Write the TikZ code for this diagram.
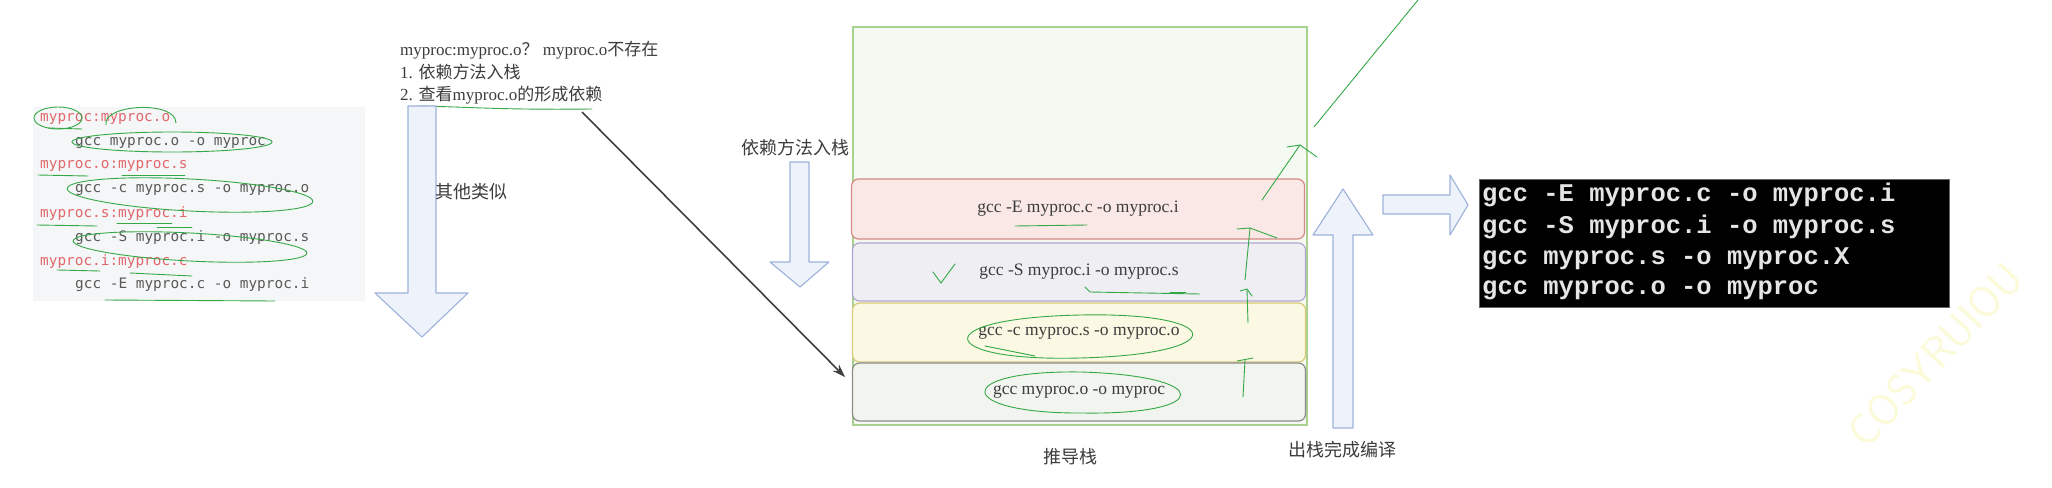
\documentclass[tikz,border=0pt]{standalone}
\usepackage{fontspec}
\setmainfont{Liberation Serif}
\setmonofont{DejaVu Sans Mono}
\newfontfamily\cjk{Noto Sans CJK SC}
\newfontfamily\termfont{Liberation Mono}
\usetikzlibrary{arrows.meta,shapes.geometric}
\newcommand\zh[1]{{\cjk #1}}
\definecolor{redtxt}{HTML}{E0676C}
\definecolor{codegray}{HTML}{5A5A5A}
\definecolor{panelbg}{HTML}{F5F6F7}
\definecolor{blueline}{HTML}{9DB2DA}
\definecolor{bluefill}{HTML}{EEF2FA}
\definecolor{anno}{HTML}{35A846}
\definecolor{stackline}{HTML}{A9D08F}
\definecolor{stackfill}{HTML}{F4F9F1}
\definecolor{redline}{HTML}{D58A85}
\definecolor{redfill}{HTML}{F9E8E5}
\definecolor{purpline}{HTML}{B3A6D0}
\definecolor{purpfill}{HTML}{EEEEF3}
\definecolor{yelline}{HTML}{D9C978}
\definecolor{yelfill}{HTML}{FBF8E3}
\definecolor{grayline}{HTML}{8C8C8C}
\definecolor{grayfill}{HTML}{F1F4EF}
\definecolor{txt}{HTML}{3C3C3C}
\definecolor{wmark}{HTML}{FBFBDA}
\begin{document}
\begin{tikzpicture}[x=1pt,y=-1pt,
  redcode/.style={anchor=west,inner sep=0pt,text=redtxt,font=\ttfamily\fontsize{14.4}{16}\selectfont},
  graycode/.style={anchor=west,inner sep=0pt,text=codegray,font=\ttfamily\fontsize{14.4}{16}\selectfont},
  blockarrow/.style={draw=blueline,fill=bluefill,line width=1.1pt,line join=round},
  layer/.style={draw=#1line,fill=#1fill,rounded corners=7pt,line width=1.2pt,minimum width=453pt,inner sep=0pt,text=txt,font=\fontsize{17.5}{20}\selectfont},
  zhlabel/.style={inner sep=0pt,text=txt,font=\cjk\fontsize{18}{20}\selectfont},
  annot/.style={draw=anno,line width=0.9pt,line cap=round},
  termline/.style={anchor=west,inner sep=0pt,text=white!90!black,font=\termfont\bfseries\fontsize{25.5}{27}\selectfont}
]
\useasboundingbox (0,0) rectangle (2052,487);
\fill[white] (0,0) rectangle (2052,487);

% watermark
\node[rotate=47,text=wmark,font=\sffamily\fontsize{44}{46}\selectfont] (wm) at (1935,355) {COSYRUIOU};

% code panel
\node[fill=panelbg,minimum width=332pt,minimum height=194pt,inner sep=0pt] (panel) at (199,204) {};
\node[redcode]  (c1) at (40,119)   {myproc:myproc.o};
\node[graycode] (c2) at (75,142.7) {gcc myproc.o -o myproc};
\node[redcode]  (c3) at (40,166.4) {myproc.o:myproc.s};
\node[graycode] (c4) at (75,190)   {gcc -c myproc.s -o myproc.o};
\node[redcode]  (c5) at (40,213.8) {myproc.s:myproc.i};
\node[graycode] (c6) at (75,237.5) {gcc -S myproc.i -o myproc.s};
\node[redcode]  (c7) at (40,261.2) {myproc.i:myproc.c};
\node[graycode] (c8) at (75,285)   {gcc -E myproc.c -o myproc.i};

% annotations on code panel
\draw[annot] (58,118) ellipse [x radius=24, y radius=11];
\draw[annot] (106,125) .. controls (102,104) and (176,100) .. (176,123);
\draw[annot] (48,128) -- (82,129);
\draw[annot] (172,142) ellipse [x radius=100, y radius=10];
\draw[annot] (38,175) -- (88,176);
\draw[annot] (122,175) -- (185,175);
\draw[annot, rotate around={-3:(190,195)}] (190,195) ellipse [x radius=123, y radius=16];
\draw[annot] (37,225) -- (97,226);
\draw[annot] (117,223) -- (172,223);
\draw[annot] (157,227) -- (192,227);
\draw[annot, rotate around={-3:(190,247)}] (190,247) ellipse [x radius=117, y radius=14];
\draw[annot] (57,270) -- (100,271);
\draw[annot] (130,273) -- (192,276);
\draw[annot] (105,300) -- (275,301);

% top text
\node[anchor=west,inner sep=0pt,text=txt,font=\fontsize{17}{20}\selectfont] (t1) at (400,50) {myproc:myproc.o\zh{？} myproc.o\zh{不存在}};
\node[anchor=west,inner sep=0pt,text=txt,font=\fontsize{17}{20}\selectfont] (t2) at (400,72) {1. \zh{依赖方法入栈}};
\node[anchor=west,inner sep=0pt,text=txt,font=\fontsize{17}{20}\selectfont] (t3) at (400,95) {2. \zh{查看}myproc.o\zh{的形成依赖}};
\draw[annot] (420,106) .. controls (470,107) and (500,110) .. (592,109);

% left down arrow
\draw[blockarrow] (408,106) -- (436,106) -- (436,293) -- (468,293) -- (422,337) -- (375,293) -- (408,293) -- cycle;
\node[zhlabel,anchor=west] (other) at (435,192) {其他类似};

% small down arrow
\node[zhlabel] (push) at (795,148) {依赖方法入栈};
\draw[blockarrow] (790,162) -- (809,162) -- (809,262) -- (829,262) -- (800,287) -- (770,262) -- (790,262) -- cycle;

% stack
\node[draw=stackline,fill=stackfill,line width=1.2pt,minimum width=454pt,minimum height=398pt,inner sep=0pt] (stack) at (1080,226) {};
\node[layer=red,  minimum height=60pt] (lE) at (1078,209)   {gcc -E myproc.c -o myproc.i};
\node[layer=purp, minimum height=58pt] (lS) at (1079,272)   {gcc -S myproc.i -o myproc.s};
\node[layer=yel,  minimum height=59pt] (lc) at (1079,332.5) {gcc -c myproc.s -o myproc.o};
\node[layer=gray, minimum height=58pt] (lo) at (1079,392)   {gcc myproc.o -o myproc};
\node[zhlabel] (stklabel) at (1070,457) {推导栈};

% stack annotations
\draw[annot] (1015,226) -- (1087,225);
\draw[annot] (1085,287) -- (1090,292) -- (1200,294);
\draw[annot] (1170,292) -- (1186,292);
\draw[annot] (933,272) -- (941,283) -- (955,264);
\draw[annot] (1081,315) .. controls (1225,312) and (1235,354) .. (1080,358) .. controls (935,362) and (925,318) .. (1081,315);
\draw[annot] (985,346) -- (1035,356);
\draw[annot] (1081,372) .. controls (1215,376) and (1212,415) .. (1083,413) .. controls (955,414) and (950,370) .. (1081,372);
\draw[annot] (1243,397) -- (1245,360);
\draw[annot] (1237,361) -- (1253,358);
\draw[annot] (1248,323) -- (1247,290);
\draw[annot] (1240,291) -- (1247,289) -- (1252,296);
\draw[annot] (1245,280) -- (1250,228);
\draw[annot] (1237,229) -- (1250,228) -- (1277,238);
\draw[annot] (1262,200) -- (1300,145);
\draw[annot] (1287,147) -- (1300,145) -- (1317,157);
\draw[annot] (1314,127) -- (1418,0);

% black connector
\coordinate (from) at (582,112);
\coordinate (to) at (845,377);
\draw[draw=black!75,line width=1.6pt,-{Stealth[length=13pt,width=9pt]}] (from) -- (to);

% up arrow
\draw[blockarrow] (1333,428) -- (1353,428) -- (1353,235) -- (1373,235) -- (1343,189) -- (1313,235) -- (1333,235) -- cycle;
\node[zhlabel] (poplabel) at (1342,450) {出栈完成编译};

% right arrow
\draw[blockarrow] (1383,195) -- (1450,195) -- (1450,175) -- (1468,205) -- (1450,235) -- (1450,214) -- (1383,214) -- cycle;

% terminal box
\node[fill=black,draw=black!60,minimum width=470pt,minimum height=128pt,inner sep=0pt] (term) at (1714,243) {};
\node[termline] (g1) at (1482,195) {gcc -E myproc.c -o myproc.i};
\node[termline] (g2) at (1482,227) {gcc -S myproc.i -o myproc.s};
\node[termline] (g3) at (1482,258.5) {gcc myproc.s -o myproc.X};
\node[termline] (g4) at (1482,290) {gcc myproc.o -o myproc};
\end{tikzpicture}
\end{document}
